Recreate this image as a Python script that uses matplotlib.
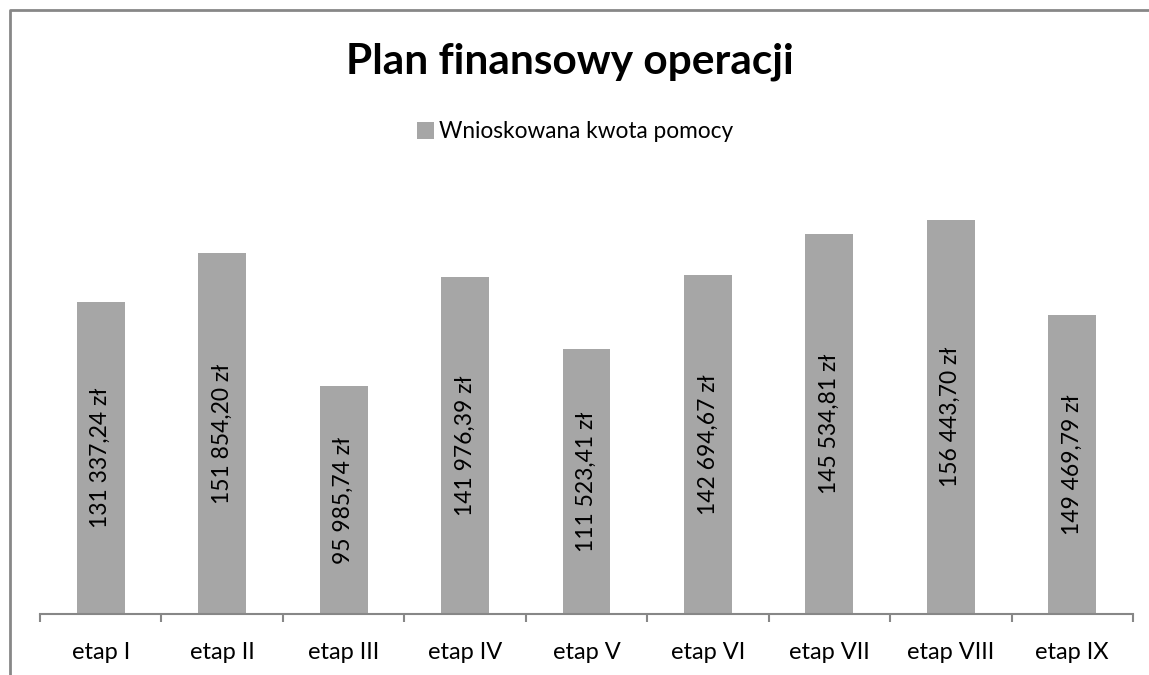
import numpy as np
import matplotlib.pyplot as plt
from matplotlib.lines import Line2D

# data
etapy = ['etap I', 'etap II', 'etap III', 'etap IV', 'etap V',
         'etap VI', 'etap VII', 'etap VIII', 'etap IX']
# bar heights (last three bars are drawn at other heights than their labels)
kwoty = [131337.24, 151854.20, 95985.74, 141976.39, 111523.41,
         142694.67, 159800, 165900, 126000]
etykiety = ['131 337,24 zł', '151 854,20 zł', '95 985,74 zł', '141 976,39 zł',
            '111 523,41 zł', '142 694,67 zł', '145 534,81 zł', '156 443,70 zł',
            '149 469,79 zł']

W, H = 1149, 675
plt.rcParams['font.family'] = ['Lato', 'DejaVu Sans']

fig = plt.figure(figsize=(W / 100, H / 100), dpi=100)
ax = fig.add_axes([40 / W, 61 / H, 1093 / W, 424 / H])

x = np.arange(len(etapy))
bars = ax.bar(x, kwoty, width=0.395, color='#a6a6a6',
              label='Wnioskowana kwota pomocy')

for b, t in zip(bars, etykiety):
    ax.text(b.get_x() + b.get_width() / 2, b.get_height() / 2, t,
            rotation=90, ha='center', va='center', fontsize=16.5, color='black')

ax.set_xlim(-0.5, len(etapy) - 0.5)
ax.set_ylim(0, 424 * 421)
for s in ['top', 'right', 'left']:
    ax.spines[s].set_visible(False)
ax.spines['bottom'].set_color('#878787')
ax.spines['bottom'].set_linewidth(1.5)
ax.set_yticks([])

ax.set_xticks(x)
ax.set_xticklabels(etapy, fontsize=17)
ax.tick_params(axis='x', which='major', length=0, pad=20)
ax.set_xticks(np.arange(-0.5, len(etapy)), minor=True)
ax.tick_params(axis='x', which='minor', length=6, width=1.5, color='#878787',
               direction='out')

fig.text(570 / W, 1 - 62 / H, 'Plan finansowy operacji', ha='center', va='center',
         fontsize=30.5, fontweight='bold')
fig.legend(handles=[bars], loc='center', bbox_to_anchor=(575 / W, 1 - 132 / H),
           frameon=False, fontsize=16.3, handlelength=0.75, handleheight=0.75,
           handletextpad=0.2)

# chart border (only top and left visible)
fig.add_artist(Line2D([10 / W, 10 / W, 1.0], [0, 1 - 10 / H, 1 - 10 / H],
                      transform=fig.transFigure, color='#878787', lw=2))

fig.savefig('out.png', dpi=100)
